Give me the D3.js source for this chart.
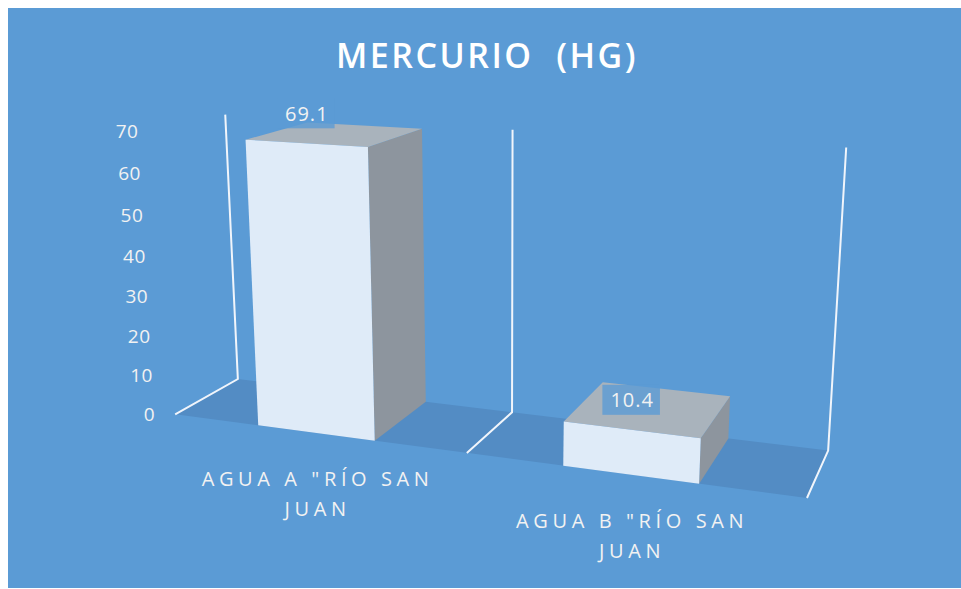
<!DOCTYPE html>
<html>
<head>
<meta charset="utf-8">
<script src="https://cdn.jsdelivr.net/npm/d3@7"></script>
<style>
  html, body { margin: 0; padding: 0; background: #ffffff; }
  svg { display: block; }
  text { font-family: "Open Sans", "Noto Sans", sans-serif; }
</style>
</head>
<body>
<script>
// ---- data ----
const title = "Mercurio\u00A0 (Hg)";
const categories = ['Agua A "Río San Juan', 'Agua B "Río San Juan'];
const values = [69.1, 10.4];
const yTicks = [0, 10, 20, 30, 40, 50, 60, 70];
const yMax = 70;

// ---- layout ----
const W = 961, H = 589;
const bg = "#5B9BD5";
const floorFill = "#538CC4";
const gridColor = "#F1F5FB";
const faceFront = "#DFEBF8", faceSide = "#8D959E", faceTop = "#A9B3BC";

// Perspective view: where the corners of the plot box land on the page.
// World coords: x across categories [0,1], y up the value axis [0,1], z depth (0 = back wall, 1 = front).
const viewAnchors = [
  { w: [0, 0, 0], s: [238, 378] }, { w: [0.5, 0, 0], s: [512, 412] }, { w: [1, 0, 0], s: [828, 452] },
  { w: [0, 1, 0], s: [225, 115] }, { w: [0.5, 1, 0], s: [513, 130] }, { w: [1, 1, 0], s: [846, 147] },
  { w: [0, 0, 1], s: [175, 415] }, { w: [0.5, 0, 1], s: [467, 453] }, { w: [1, 0, 1], s: [807, 497] }
];

// Fit a 3x4 projective camera (last entry fixed at 1) by least squares.
function fitCamera(pairs) {
  const rows = [], rhs = [];
  for (const { w: [X, Y, Z], s: [u, v] } of pairs) {
    rows.push([X, Y, Z, 1, 0, 0, 0, 0, -u * X, -u * Y, -u * Z]); rhs.push(u);
    rows.push([0, 0, 0, 0, X, Y, Z, 1, -v * X, -v * Y, -v * Z]); rhs.push(v);
  }
  const n = 11;
  const N = Array.from({ length: n }, () => new Array(n).fill(0));
  const r = new Array(n).fill(0);
  rows.forEach((row, i) => {
    for (let a = 0; a < n; a++) {
      r[a] += row[a] * rhs[i];
      for (let b = 0; b < n; b++) N[a][b] += row[a] * row[b];
    }
  });
  for (let c = 0; c < n; c++) {
    let p = c;
    for (let k = c + 1; k < n; k++) if (Math.abs(N[k][c]) > Math.abs(N[p][c])) p = k;
    [N[c], N[p]] = [N[p], N[c]]; [r[c], r[p]] = [r[p], r[c]];
    for (let k = c + 1; k < n; k++) {
      const f = N[k][c] / N[c][c];
      for (let j = c; j < n; j++) N[k][j] -= f * N[c][j];
      r[k] -= f * r[c];
    }
  }
  const m = new Array(n).fill(0);
  for (let c = n - 1; c >= 0; c--) {
    let s = r[c];
    for (let j = c + 1; j < n; j++) s -= N[c][j] * m[j];
    m[c] = s / N[c][c];
  }
  return m;
}
const cam = fitCamera(viewAnchors);
function P(X, Y, Z) {
  const w = cam[8] * X + cam[9] * Y + cam[10] * Z + 1;
  return [(cam[0] * X + cam[1] * Y + cam[2] * Z + cam[3]) / w,
          (cam[4] * X + cam[5] * Y + cam[6] * Z + cam[7]) / w];
}
const poly = pts => "M" + pts.map(p => P(...p).join(",")).join("L") + "Z";

// ---- scales ----
const x = d3.scaleBand().domain(categories).range([0, 1]).paddingInner(0.6).paddingOuter(0.3);
const y = d3.scaleLinear().domain([0, yMax]).range([0, 1]);
const BACK = 0, FRONT = 1;

const svg = d3.select("body").append("svg").attr("width", W).attr("height", H);
svg.append("rect").attr("x", 8).attr("y", 8).attr("width", W - 8).attr("height", H - 9).attr("fill", bg);

// title
svg.append("text")
  .attr("x", 487).attr("y", 68)
  .attr("text-anchor", "middle")
  .attr("fill", "#ffffff")
  .attr("font-size", 34).attr("font-weight", 600)
  .attr("letter-spacing", 2.5)
  .text(title.toUpperCase());

// floor
svg.append("path")
  .attr("d", poly([[0, 0, BACK], [1, 0, BACK], [1, 0, FRONT], [0, 0, FRONT]]))
  .attr("fill", floorFill);

// category gridlines on the back wall and floor
const bounds = d3.range(categories.length + 1).map(i => i / categories.length);
const grid = svg.append("g").attr("stroke", gridColor).attr("stroke-width", 2).attr("fill", "none");
bounds.forEach(b => {
  grid.append("path").attr("d", "M" + [P(b, y(yMax), BACK), P(b, 0, BACK), P(b, 0, FRONT)].map(p => p.join(",")).join("L"));
});

// value axis labels along the front-left edge
svg.append("g").selectAll("text").data(yTicks).join("text")
  .each(function (t) {
    const [px, py] = P(0, y(t), FRONT);
    d3.select(this).attr("x", px - 20).attr("y", py);
  })
  .attr("text-anchor", "end").attr("dominant-baseline", "central")
  .attr("fill", "#F2F2F2").attr("font-size", 19).attr("letter-spacing", 0.5)
  .text(d => d);

// 3D columns
const bars = svg.append("g");
categories.forEach((c, i) => {
  const x0 = x(c), x1 = x0 + x.bandwidth(), h = y(values[i]);
  const g = bars.append("g");
  g.append("path").attr("d", poly([[x1, 0, FRONT], [x1, 0, BACK], [x1, h, BACK], [x1, h, FRONT]])).attr("fill", faceSide);
  g.append("path").attr("d", poly([[x0, h, FRONT], [x1, h, FRONT], [x1, h, BACK], [x0, h, BACK]])).attr("fill", faceTop);
  g.append("path").attr("d", poly([[x0, 0, FRONT], [x1, 0, FRONT], [x1, h, FRONT], [x0, h, FRONT]])).attr("fill", faceFront);
});

// data labels above each column
categories.forEach((c, i) => {
  const [ax, ay] = P(x(c) + x.bandwidth() / 2, y(values[i]), FRONT);
  const cy = ay - 30;
  const g = svg.append("g");
  const box = g.append("rect").attr("fill", bg).attr("fill-opacity", 0.8);
  const t = g.append("text")
    .attr("x", ax + 1).attr("y", cy)
    .attr("text-anchor", "middle").attr("dominant-baseline", "central")
    .attr("fill", "#F2F2F2").attr("font-size", 20).attr("letter-spacing", 1)
    .text(d3.format(".1f")(values[i]));
  const wdt = t.node().getComputedTextLength() + 14;
  box.attr("x", ax - wdt / 2).attr("y", cy - 15).attr("width", wdt).attr("height", 30);
});

// category labels under the front edge, wrapped onto two lines
categories.forEach(c => {
  const [ax, ay] = P(x(c) + x.bandwidth() / 2, 0, FRONT);
  const words = c.toUpperCase().split(" ");
  const lines = [words.slice(0, -1).join(" "), words[words.length - 1]];
  svg.append("text")
    .attr("text-anchor", "middle").attr("fill", "#F2F2F2")
    .attr("font-size", 20).attr("letter-spacing", 4.6)
    .selectAll("tspan").data(lines).join("tspan")
    .attr("x", ax + 2).attr("y", (d, k) => ay + 46 + k * 30)
    .attr("dominant-baseline", "central")
    .text(d => d);
});
</script>
</body>
</html>
